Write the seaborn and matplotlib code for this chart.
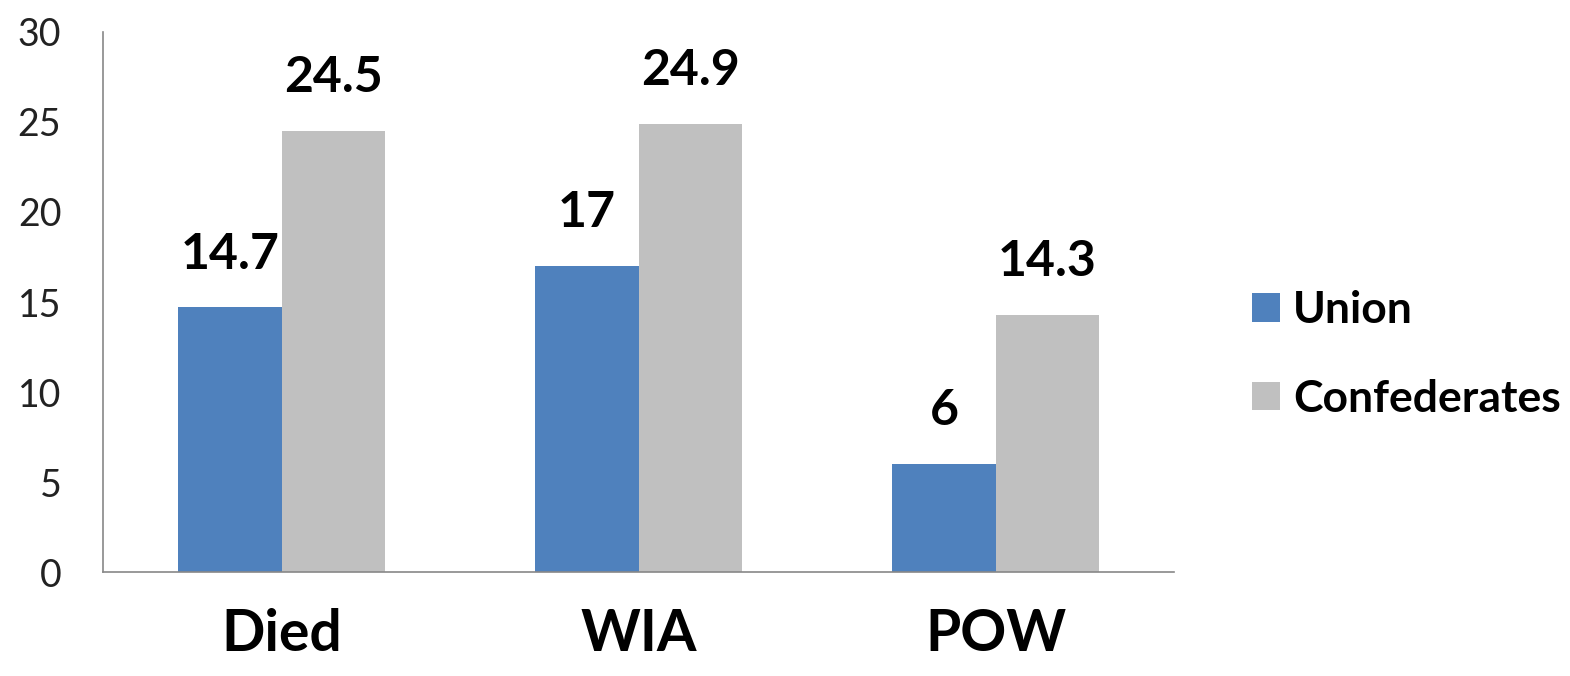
import matplotlib
matplotlib.use("Agg")
import matplotlib.pyplot as plt
import seaborn as sns
import pandas as pd

categories = ["Died", "WIA", "POW"]
series_names = ["Union", "Confederates"]
union = [14.7, 17, 6]
confederates = [24.5, 24.9, 14.3]
yticks = [0, 5, 10, 15, 20, 25, 30]
colors = ["#4F81BD", "#C0C0C0"]

df = pd.DataFrame({
    "cat": categories * 2,
    "series": [series_names[0]] * 3 + [series_names[1]] * 3,
    "value": union + confederates,
})

sns.set_theme(style="white")
plt.rcParams["font.family"] = ["Lato", "DejaVu Sans"]

fig = plt.figure(figsize=(15.7, 6.76), dpi=100)
ax = fig.add_axes([0.0656, 0.1538, 0.6824, 0.7989])

sns.barplot(data=df, x="cat", y="value", hue="series", order=categories,
            hue_order=series_names, palette=colors, width=0.58,
            saturation=1, linewidth=0, ax=ax, legend=True)

for cont in ax.containers:
    labels = [f"{v:g}" for v in cont.datavalues]
    ax.bar_label(cont, labels=labels, padding=22, fontsize=36,
                 fontweight="bold", color="black")

ax.set_ylim(0, 30)
ax.set_xlim(-0.5, 2.5)
ax.set_yticks(yticks)
ax.set_yticklabels([str(t) for t in yticks], fontsize=27, color="#222222")
ax.tick_params(axis="y", length=0, pad=30)
ax.tick_params(axis="x", length=0, pad=26, labelsize=41, labelcolor="black")
for lbl in ax.get_xticklabels():
    lbl.set_fontweight("bold")
ax.set_xlabel("")
ax.set_ylabel("")
for s in ["top", "right"]:
    ax.spines[s].set_visible(False)
for s in ["left", "bottom"]:
    ax.spines[s].set_color("#888888")
    ax.spines[s].set_linewidth(1.2)

handles, labs = ax.get_legend_handles_labels()
ax.legend_.remove()
leg = fig.legend(handles, labs, loc="center left", bbox_to_anchor=(0.772, 0.476),
           frameon=False, prop={"family": ["Lato", "DejaVu Sans"], "size": 32, "weight": "bold"},
           handlelength=0.62, handleheight=0.62, handletextpad=0.3, labelspacing=1.1)
for t in leg.get_texts():
    t.set_color("black")

fig.savefig("out.png", dpi=100)
